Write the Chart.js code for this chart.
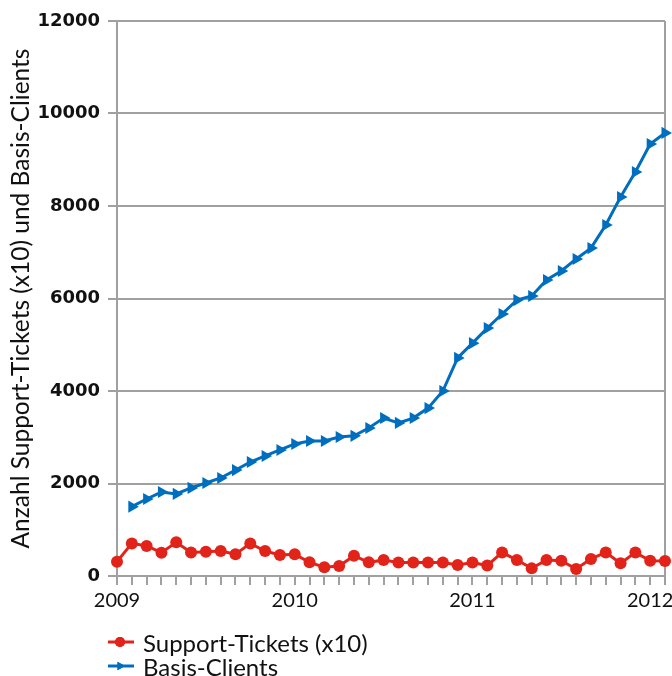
<!DOCTYPE html>
<html>
<head>
<meta charset="utf-8">
<script src="https://cdn.jsdelivr.net/npm/chart.js@4"></script>
<style>
    body { margin: 0; background: #fff; overflow: hidden; }
    #wrap { position: relative; width: 672px; height: 620px; }
    #legend { position: absolute; left: 108px; top: 630px; font-family: Lato, sans-serif; font-size: 24px; color: #111; }
    .row { display: flex; align-items: center; height: 24px; }
    .row canvas { margin-right: 9px; }
</style>
</head>
<body>
<div id="wrap"><canvas id="line_canvas"></canvas></div>
<div id="legend"></div>
<script>
const months = [
    '2009-01', '2009-02', '2009-03', '2009-04', '2009-05', '2009-06', '2009-07', '2009-08', '2009-09', '2009-10', '2009-11', '2009-12',
    '2010-01', '2010-02', '2010-03', '2010-04', '2010-05', '2010-06', '2010-07', '2010-08', '2010-09', '2010-10', '2010-11', '2010-12',
    '2011-01', '2011-02', '2011-03', '2011-04', '2011-05', '2011-06', '2011-07', '2011-08', '2011-09', '2011-10', '2011-11', '2011-12',
    '2012-01', '2012-02'
]
const tickets = [310, 705, 650, 505, 730, 510, 525, 540, 470, 705, 540, 455, 470, 295, 190, 215, 440, 295, 345, 290, 290, 290, 290, 240, 290, 225, 510, 345, 165, 345, 330, 150, 370, 510, 275, 510, 330, 325]
const clients = [null, 1500, 1665, 1815, 1775, 1905, 2010, 2120, 2290, 2465, 2595, 2725, 2855, 2920, 2920, 3005, 3030, 3200, 3415, 3310, 3415, 3630, 4000, 4715, 5035, 5360, 5665, 5965, 6055, 6400, 6595, 6855, 7090, 7590, 8195, 8735, 9340, 9580]
const yTicks = [0, 2000, 4000, 6000, 8000, 10000, 12000]

const grey = 'rgb(160, 160, 160)'
const red = 'rgb(226, 35, 26)'
const blue = 'rgb(0, 110, 190)'

function makeChart() {
    const setup = {
        labels: months,
        datasets: [{
            label: 'Support-Tickets (x10)',
            data: tickets,
            borderColor: red,
            backgroundColor: red,
            borderWidth: 3,
            pointStyle: 'circle',
            pointRadius: 6,
            pointBorderWidth: 0,
            clip: false
        }, {
            label: 'Basis-Clients',
            data: clients,
            borderColor: blue,
            backgroundColor: blue,
            borderWidth: 3,
            pointStyle: 'triangle',
            pointRotation: 90,
            pointRadius: 7,
            pointBorderWidth: 0,
            clip: false
        }]
    }
    return new Chart(document.getElementById('line_canvas'), {
        type: 'line',
        data: setup,
        options: {
            responsive: true,
            maintainAspectRatio: false,
            animation: false,
            layout: { padding: { top: 21, right: 1, bottom: 0, left: 0 } },
            plugins: {
                legend: { display: false },
                tooltip: { enabled: false }
            },
            scales: {
                x: {
                    offset: false,
                    afterFit: scale => { scale.height = 44 },
                    border: { color: grey, width: 2 },
                    grid: {
                        color: ctx => ctx.index === months.length - 1 ? grey : 'rgba(0,0,0,0)',
                        lineWidth: 2,
                        tickColor: grey,
                        tickWidth: 2,
                        tickLength: 9,
                        drawOnChartArea: true
                    },
                    ticks: {
                        autoSkip: false,
                        maxRotation: 0,
                        padding: 4,
                        color: '#111',
                        font: { family: 'Lato', size: 20 },
                        callback: (val, i) => months[i].endsWith('-01') ? months[i].slice(0, 4) : ''
                    }
                },
                y: {
                    min: yTicks[0],
                    max: yTicks[yTicks.length - 1],
                    afterFit: scale => { scale.width = 117 },
                    afterBuildTicks: scale => { scale.ticks = yTicks.map(v => ({ value: v })) },
                    border: { color: grey, width: 2 },
                    grid: { color: grey, lineWidth: 2, tickLength: 9 },
                    ticks: {
                        padding: 8,
                        color: '#111',
                        font: { family: "'DejaVu Sans'", size: 18, weight: 'bold' },
                        callback: val => String(val)
                    },
                    title: {
                        display: true,
                        text: 'Anzahl Support-Tickets (x10) und Basis-Clients',
                        color: '#111',
                        font: { family: 'Lato', size: 24.5 },
                        padding: { top: 6, bottom: 0 }
                    }
                }
            }
        }
    })
}

function makeLegend(chart) {
    const box = document.getElementById('legend')
    chart.data.datasets.forEach(ds => {
        const row = document.createElement('div')
        row.className = 'row'
        const c = document.createElement('canvas')
        c.width = 26
        c.height = 14
        const ctx = c.getContext('2d')
        ctx.strokeStyle = ds.borderColor
        ctx.fillStyle = ds.backgroundColor
        ctx.lineWidth = 3
        ctx.beginPath()
        ctx.moveTo(0, 7)
        ctx.lineTo(26, 7)
        ctx.stroke()
        Chart.helpers.drawPoint(ctx, { pointStyle: ds.pointStyle, radius: 5, rotation: ds.pointRotation || 0, borderWidth: 0 }, 12, 7)
        ctx.fill()
        row.appendChild(c)
        const t = document.createElement('span')
        t.textContent = ds.label
        row.appendChild(t)
        box.appendChild(row)
    })
}

const chart = makeChart()
makeLegend(chart)
</script>
</body>
</html>
